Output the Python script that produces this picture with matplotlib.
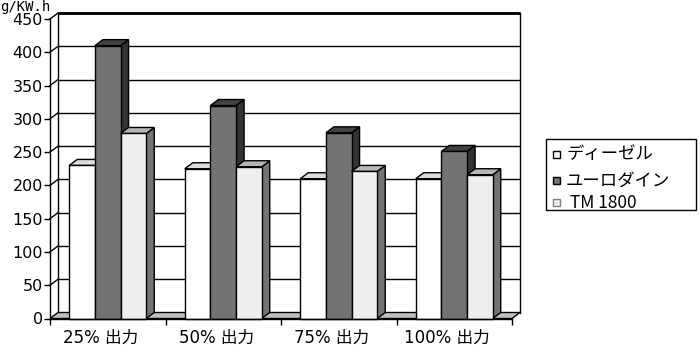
import matplotlib
matplotlib.use("Agg")
import matplotlib.pyplot as plt
from matplotlib.patches import Polygon, Rectangle
from matplotlib.transforms import ScaledTranslation

# ---- data ----
categories = ["25% 出力", "50% 出力", "75% 出力", "100% 出力"]
series_names = ["ディーゼル", "ユーロダイン", " TM 1800"]
diesel = [230, 225, 210, 210]
eurodyne = [410, 320, 279, 251]
tm1800 = [278, 228, 221, 216]
y_ticks = [0, 50, 100, 150, 200, 250, 300, 350, 400, 450]
unit_label = "g/KW.h"

series_values = [diesel, eurodyne, tm1800]
face_colors = [
    # front, top, side
    ("#ffffff", "#dcdcdc", "#a8a8a8"),
    ("#737373", "#424242", "#333333"),
    ("#efefef", "#b6b6b6", "#737373"),
]
legend_marker_edges = ["#000000", "#000000", "#808080"]

W, H = 700, 361
fig = plt.figure(figsize=(W / 100, H / 100), dpi=100)
fig.patch.set_facecolor("white")

# axes = front plane of the 3D plot
x0_px, x1_px = 50, 512
ytop_px, ybot_px = 19, 318.5
ax = fig.add_axes([x0_px / W, 1 - ybot_px / H, (x1_px - x0_px) / W, (ybot_px - ytop_px) / H])
ncat = len(categories)
ymax = y_ticks[-1]
ax.set_xlim(0, ncat)
ax.set_ylim(0, ymax)
ax.patch.set_visible(False)

# depth offset in data units
px_per_x = (x1_px - x0_px) / ncat
px_per_y = (ybot_px - ytop_px) / ymax
dx = 8 / px_per_x
dy = 6 / px_per_y

lw = 1.0
# back wall
ax.add_patch(Polygon([(dx, dy), (ncat + dx, dy), (ncat + dx, ymax + dy), (dx, ymax + dy)],
                     closed=True, facecolor="white", edgecolor="none", zorder=0.5, clip_on=False))
# gridlines on back wall and left wall
for v in y_ticks[1:]:
    ax.plot([dx, ncat + dx], [v + dy, v + dy], color="black", lw=lw, zorder=0.6, clip_on=False,
            solid_capstyle="butt")
    ax.plot([0, dx], [v, v + dy], color="black", lw=lw, zorder=0.6, clip_on=False)
# back-left edge
ax.plot([dx, dx], [dy, ymax + dy], color="black", lw=lw, zorder=0.6, clip_on=False)
# right edge of back wall
ax.plot([ncat + dx, ncat + dx], [dy, ymax + dy], color="black", lw=lw, zorder=0.6, clip_on=False)
# top edge (thick)
ax.plot([dx, ncat + dx], [ymax + dy, ymax + dy], color="black", lw=2.0, zorder=0.7, clip_on=False,
        solid_capstyle="butt")

# floor
ax.add_patch(Polygon([(0, 0), (ncat, 0), (ncat + dx, dy), (dx, dy)], closed=True,
                     facecolor="#c0c0c0", edgecolor="black", lw=lw, zorder=0.8, clip_on=False))

# bars
bw = 1 / 4.5
off = 0.75 * bw
z = 1.0
for ci in range(ncat):
    for si, vals in enumerate(series_values):
        v = vals[ci]
        left = ci + off + si * bw
        right = left + bw
        front, top, side = face_colors[si]
        ax.add_patch(Polygon([(right, 0), (right + dx, dy), (right + dx, v + dy), (right, v)],
                             closed=True, facecolor=side, edgecolor="black", lw=lw, zorder=z, clip_on=False))
        ax.add_patch(Polygon([(left, v), (right, v), (right + dx, v + dy), (left + dx, v + dy)],
                             closed=True, facecolor=top, edgecolor="black", lw=lw, zorder=z, clip_on=False))
        ax.bar([left], [v], width=bw, align="edge", color=front, edgecolor="black", lw=lw,
               zorder=z + 0.01, clip_on=False)
        z += 0.02

# spines
for s in ["top", "right"]:
    ax.spines[s].set_visible(False)
for s in ["left", "bottom"]:
    ax.spines[s].set_linewidth(lw)
    ax.spines[s].set_zorder(5)

ax.set_yticks(y_ticks)
ax.set_yticklabels([str(t) for t in y_ticks], fontsize=11.5, family="DejaVu Sans")
ax.tick_params(axis="y", direction="out", length=4, width=1, pad=1)

ax.set_xticks(range(ncat + 1))
ax.set_xticklabels([""] * (ncat + 1))
ax.tick_params(axis="x", direction="out", length=4, width=1)
for ci, lab in enumerate(categories):
    t = ax.text(ci + 0.5, 0, lab, ha="center", va="center", fontsize=12,
                family=["DejaVu Sans", "Noto Sans CJK JP"],
                transform=ax.transData + ScaledTranslation(-7 / 100, -19.5 / 100, fig.dpi_scale_trans))
    t.set_clip_on(False)

# unit label
fig.text(0 / W, 1 - 11 / H, unit_label, ha="left", va="baseline", fontsize=10,
         family="DejaVu Sans Mono")

# legend (manual)
lx0, ly0, lx1, ly1 = 546, 139, 696, 210
fig.add_artist(Rectangle((lx0 / W, 1 - ly1 / H), (lx1 - lx0) / W, (ly1 - ly0) / H,
                         transform=fig.transFigure, facecolor="white", edgecolor="black", lw=1))
rows = [154.5, 180.5, 202.5]
for si, name in enumerate(series_names):
    yc = rows[si]
    fig.add_artist(Rectangle((553 / W, 1 - (yc + 3.5) / H), 7 / W, 7 / H, transform=fig.transFigure,
                             facecolor=face_colors[si][0], edgecolor=legend_marker_edges[si], lw=1))
    fig.text(566 / W, 1 - yc / H, name, ha="left", va="center", fontsize=12.5,
             family=["Noto Sans CJK JP", "DejaVu Sans"])

fig.savefig("out.png", dpi=100)
